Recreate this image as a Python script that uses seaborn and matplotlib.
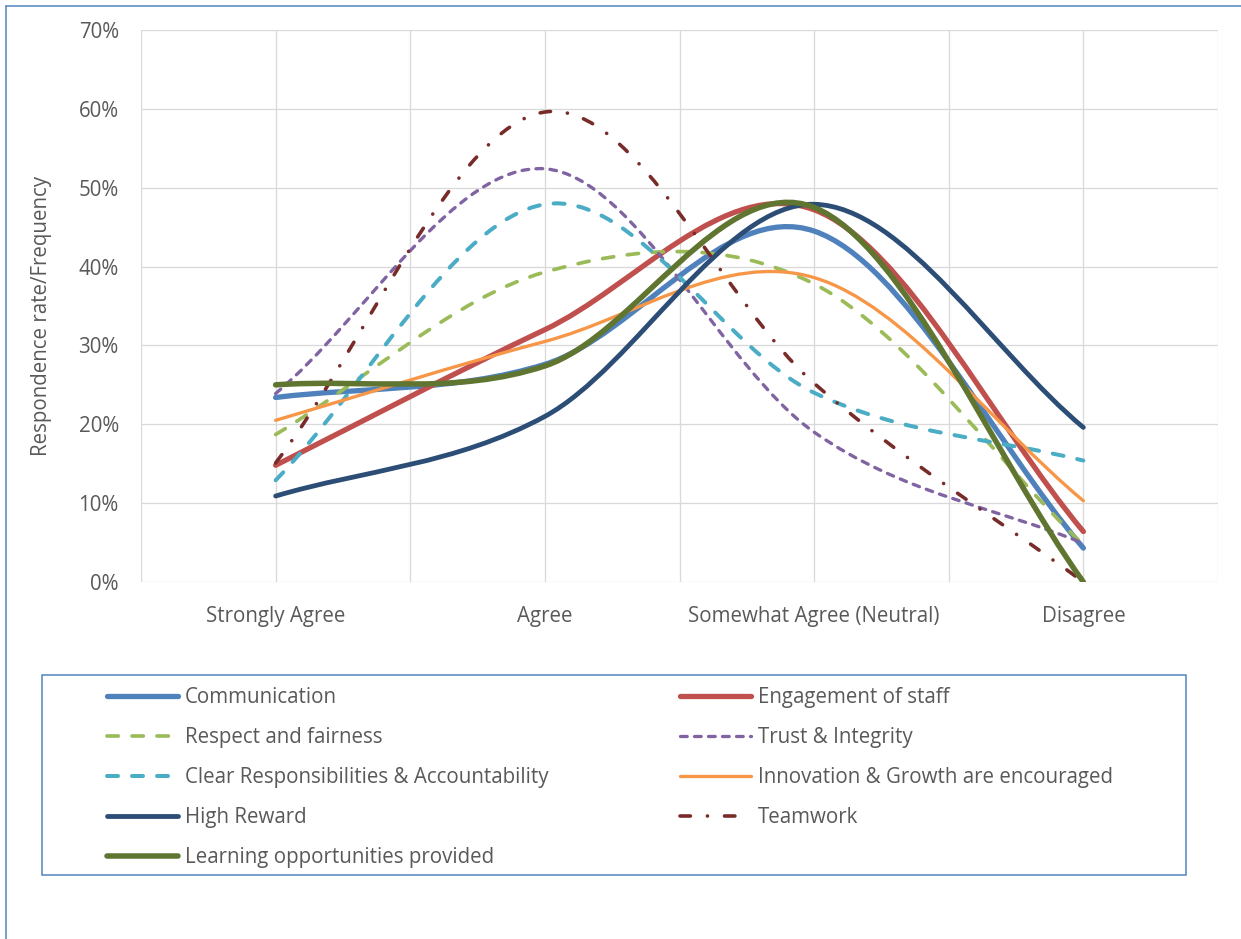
import matplotlib
matplotlib.use("Agg")
import matplotlib.pyplot as plt
import seaborn as sns
from matplotlib.path import Path
from matplotlib.patches import PathPatch, Rectangle
from matplotlib.lines import Line2D
from matplotlib.ticker import PercentFormatter, FixedLocator

# data (percent of respondents)
categories = ['Strongly Agree', 'Agree', 'Somewhat Agree (Neutral)', 'Disagree']
communication = [23.4, 27.6, 44.5, 4.3]
engagement = [14.8, 32.0, 47.2, 6.4]
respect = [18.7, 39.3, 37.8, 4.7]
trust = [23.9, 52.4, 19.0, 4.9]
clear_resp = [12.9, 47.9, 24.0, 15.4]
innovation = [20.5, 30.5, 38.6, 10.3]
high_reward = [10.9, 21.0, 47.9, 19.6]
teamwork = [15.1, 59.6, 25.2, 0.0]
learning = [25.0, 27.4, 47.5, 0.0]

series_names = ['Communication', 'Engagement of staff', 'Respect and fairness',
                'Trust & Integrity', 'Clear Responsibilities & Accountability',
                'Innovation & Growth are encouraged', 'High Reward', 'Teamwork',
                'Learning opportunities provided']
series_values = [communication, engagement, respect, trust, clear_resp,
                 innovation, high_reward, teamwork, learning]

PX = 0.72  # points per pixel at dpi 100

# styles: colour, line width (px), dash pattern (px) or None
styles = [
    ('#4F81BD', 5.3, None),
    ('#C0504D', 5.3, None),
    ('#9BBB59', 3.7, (11.3, 13.7)),
    ('#8064A2', 3.3, (6.7, 7.3)),
    ('#4BACC6', 4.0, (11.0, 14.0)),
    ('#F79646', 3.3, None),
    ('#2C4D75', 4.8, None),
    ('#772C2A', 3.6, (10.4, 17.0, 0.1, 17.0)),
    ('#5F7530', 5.5, None),
]

sns.set_style("white")
plt.rcParams['font.family'] = ['Open Sans', 'DejaVu Sans']
plt.rcParams['lines.scale_dashes'] = False
TXT = '#595959'
FS = 14.8


def smooth_path(xs, ys):
    # Excel-like smoothed line as cubic Bezier segments
    pts = list(zip(xs, ys))
    n = len(pts)
    verts = [pts[0]]
    codes = [Path.MOVETO]
    for i in range(n - 1):
        p1, p2 = pts[i], pts[i + 1]
        p0 = pts[i - 1] if i > 0 else (2 * p1[0] - p2[0], 2 * p1[1] - p2[1])
        p3 = pts[i + 2] if i + 2 < n else (2 * p2[0] - p1[0], 2 * p2[1] - p1[1])
        c1 = (p1[0] + (p2[0] - p0[0]) / 6, p1[1] + (p2[1] - p0[1]) / 6)
        c2 = (p2[0] - (p3[0] - p1[0]) / 6, p2[1] - (p3[1] - p1[1]) / 6)
        verts += [c1, c2, p2]
        codes += [Path.CURVE4] * 3
    return Path(verts, codes)


def ls_of(dash):
    if dash is None:
        return '-'
    return (0, tuple(d * PX for d in dash))


W, H = 1241, 939
fig = plt.figure(figsize=(W / 100, H / 100), dpi=100)
ax = fig.add_axes([141 / W, 1 - 582 / H, (1218 - 141) / W, (582 - 30) / H])

xpos = [i + 0.5 for i in range(len(categories))]

for name, vals, (col, lw, dash) in zip(series_names, series_values, styles):
    patch = PathPatch(smooth_path(xpos, vals), fill=False, edgecolor=col,
                      lw=lw * PX, linestyle=ls_of(dash), capstyle='round',
                      joinstyle='round', zorder=3)
    ax.add_patch(patch)

ax.set_xlim(0, 4)
ax.set_ylim(0, 70)
ax.set_xticks(xpos)
ax.set_xticklabels(categories)
ax.xaxis.set_minor_locator(FixedLocator([0, 1, 2, 3, 4]))
ax.set_yticks(range(0, 71, 10))
ax.yaxis.set_major_formatter(PercentFormatter(100, decimals=0))
ax.grid(True, which='both', color='#D9D9D9', lw=1.3 * PX, zorder=0)
ax.tick_params(which='both', length=0, labelsize=FS, labelcolor=TXT)
ax.tick_params(axis='x', pad=17)
ax.tick_params(axis='y', pad=16)
for s in ax.spines.values():
    s.set_visible(False)
ax.set_ylabel('Respondence rate/Frequency', fontsize=FS, color=TXT)
ax.yaxis.set_label_coords(-0.083, 0.482)

# legend in two columns inside a blue frame
handles = []
for (col, lw, dash) in styles:
    handles.append(Line2D([], [], color=col, lw=lw * PX, linestyle=ls_of(dash),
                          dash_capstyle='round', solid_capstyle='round'))
left_idx = [0, 2, 4, 6, 8]
right_idx = [1, 3, 5, 7]
common = dict(frameon=False, fontsize=FS, labelcolor=TXT, loc='upper left',
              borderpad=0, borderaxespad=0, handlelength=71 / 20.5,
              handletextpad=7 / 20.5, labelspacing=0.93)
fig.legend([handles[i] for i in left_idx], [series_names[i] for i in left_idx],
           bbox_to_anchor=(107 / W, 1 - 687 / H), **common)
fig.legend([handles[i] for i in right_idx], [series_names[i] for i in right_idx],
           bbox_to_anchor=(680 / W, 1 - 687 / H), **common)

fig.add_artist(Rectangle((42 / W, 1 - 875 / H), (1186 - 42) / W, 200 / H,
                         transform=fig.transFigure, fill=False,
                         edgecolor='#4F81BD', lw=1.5 * PX))
# outer frame (top and left edges)
fig.add_artist(Line2D([6 / W, 1], [1 - 6 / H, 1 - 6 / H], transform=fig.transFigure,
                      color='#4F81BD', lw=1.5 * PX))
fig.add_artist(Line2D([6 / W, 6 / W], [0, 1 - 6 / H], transform=fig.transFigure,
                      color='#4F81BD', lw=1.5 * PX))

fig.savefig('out.png', dpi=100)
